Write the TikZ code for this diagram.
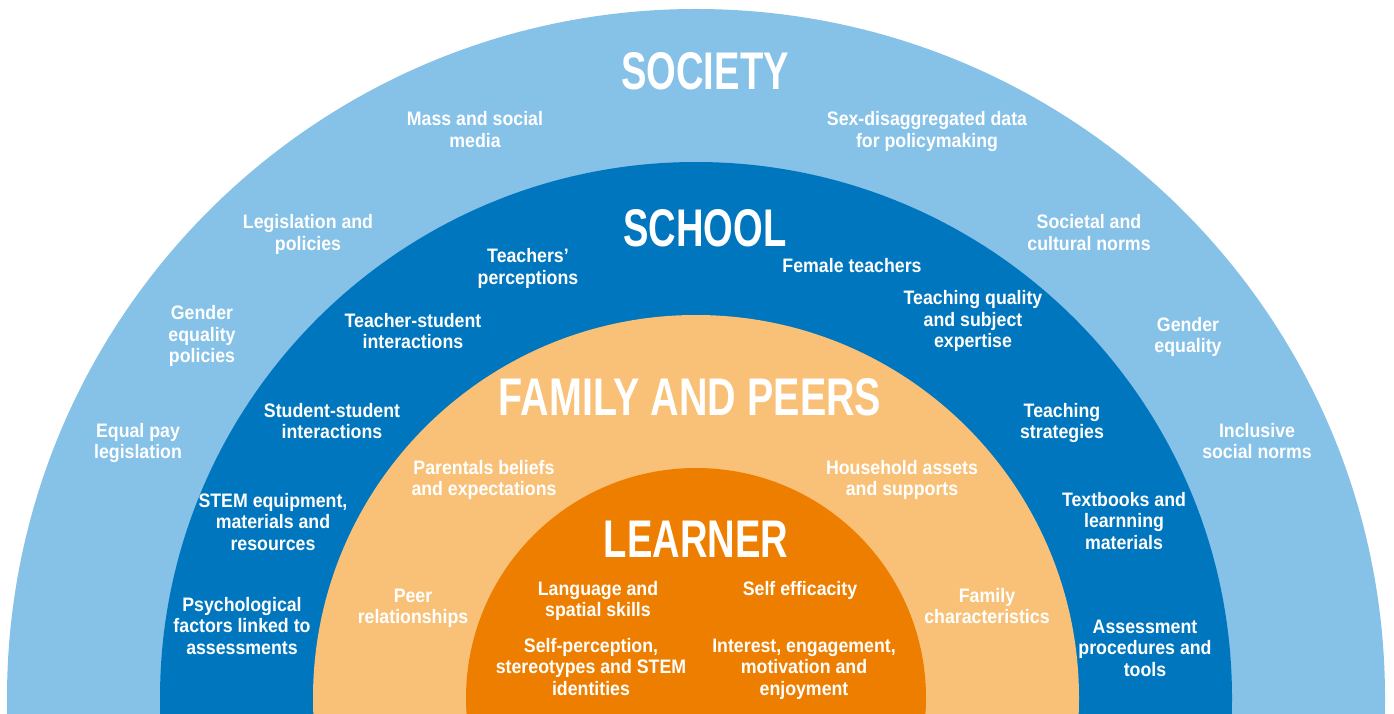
\documentclass[tikz,border=0pt]{standalone}
\usepackage{fontspec}
\newfontfamily\lblfont{Liberation Sans}[FakeStretch=0.91]
\newfontfamily\ttlfont{Liberation Sans}[FakeStretch=0.72]
\newfontfamily\ttlwfont{Liberation Sans}[FakeStretch=0.745]
\definecolor{societyc}{HTML}{86C1E8}
\definecolor{schoolc}{HTML}{0076BE}
\definecolor{familyc}{HTML}{F8C177}
\definecolor{learnerc}{HTML}{EE7E00}
\begin{document}
\begin{tikzpicture}[x=1pt,y=1pt,
  lbl/.style={text=white, font=\lblfont\bfseries\fontsize{19.5}{21.5}\selectfont, align=center, inner sep=0pt, anchor=base},
  ttl/.style={text=white, font=\ttlfont\bfseries\fontsize{53}{60}\selectfont, inner sep=0pt, anchor=base}]
\useasboundingbox (0,0) rectangle (1394,713);
\begin{scope}
\clip (0,0) rectangle (1394,713);
\fill[societyc] (696,15) circle[radius=689];
\fill[schoolc] (696,15) circle[radius=536];
\fill[familyc] (696,15) circle[radius=383];
\fill[learnerc] (696,15) circle[radius=230];
\end{scope}
% titles
\node[ttl] (tsociety) at (705,713-90) {SOCIETY};
\node[ttl] (tschool) at (705,713-247) {SCHOOL};
\node[ttl, font=\ttlwfont\bfseries\fontsize{53}{60}\selectfont] (tfamily) at (690,713-415) {FAMILY AND PEERS};
\node[ttl] (tlearner) at (696,713-557) {LEARNER};
% society (anchor = baseline of last line)
\node[lbl] (s1) at (475,713-147.5) {Mass and social\\media};
\node[lbl] (s2) at (927,713-147.5) {Sex-disaggregated data\\for policymaking};
\node[lbl] (s3) at (308,713-250.5) {Legislation and\\policies};
\node[lbl] (s4) at (1089,713-250.5) {Societal and\\cultural norms};
\node[lbl] (s5) at (202,713-363) {Gender\\equality\\policies};
\node[lbl] (s6) at (1188,713-352.5) {Gender\\equality};
\node[lbl] (s7) at (138,713-458.5) {Equal pay\\legislation};
\node[lbl] (s8) at (1257,713-458.5) {Inclusive\\social norms};
% school
\node[lbl] (c1) at (528,713-284.5) {Teachers’\\perceptions};
\node[lbl] (c2) at (852,713-273) {Female teachers};
\node[lbl] (c3) at (413,713-348.5) {Teacher-student\\interactions};
\node[lbl] (c4) at (973,713-348) {Teaching quality\\and subject\\expertise};
\node[lbl] (c5) at (332,713-438.5) {Student-student\\interactions};
\node[lbl] (c6) at (1062,713-438.5) {Teaching\\strategies};
\node[lbl] (c7) at (273,713-550) {STEM equipment,\\materials and\\resources};
\node[lbl] (c8) at (1124,713-549) {Textbooks and\\learnning\\materials};
\node[lbl] (c9) at (242,713-654) {Psychological\\factors linked to\\assessments};
\node[lbl] (c10) at (1145,713-676) {Assessment\\procedures and\\tools};
% family
\node[lbl] (f1) at (484,713-495.5) {Parentals beliefs\\and expectations};
\node[lbl] (f2) at (902,713-495.5) {Household assets\\and supports};
\node[lbl] (f3) at (413,713-623.5) {Peer\\relationships};
\node[lbl] (f4) at (987,713-623.5) {Family\\characteristics};
% learner
\node[lbl] (l1) at (598,713-616.5) {Language and\\spatial skills};
\node[lbl] (l2) at (800,713-595) {Self efficacity};
\node[lbl] (l3) at (591,713-695) {Self-perception,\\stereotypes and STEM\\identities};
\node[lbl] (l4) at (804,713-695) {Interest, engagement,\\motivation and\\enjoyment};
\end{tikzpicture}
\end{document}
